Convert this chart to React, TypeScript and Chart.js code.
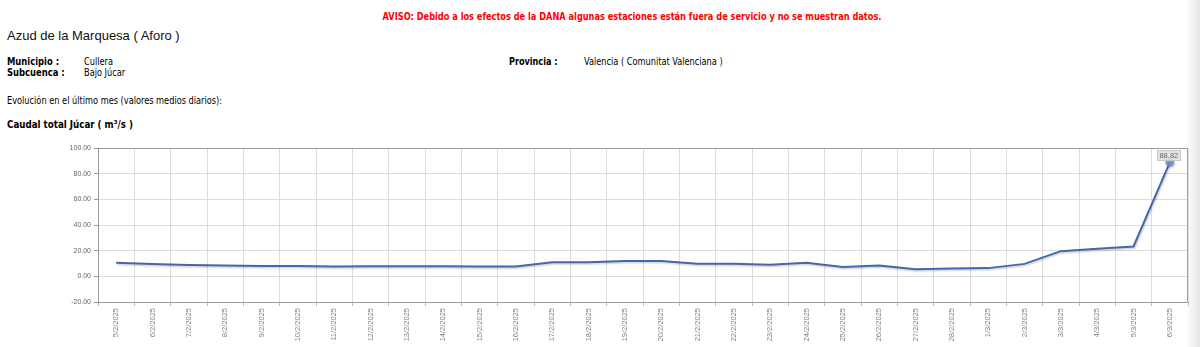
import React, { useEffect, useRef } from "react";
import { Chart, registerables } from "chart.js";

Chart.register(...registerables);

const dates = [
  "5/2/2025", "6/2/2025", "7/2/2025", "8/2/2025", "9/2/2025", "10/2/2025",
  "11/2/2025", "12/2/2025", "13/2/2025", "14/2/2025", "15/2/2025", "16/2/2025",
  "17/2/2025", "18/2/2025", "19/2/2025", "20/2/2025", "21/2/2025", "22/2/2025",
  "23/2/2025", "24/2/2025", "25/2/2025", "26/2/2025", "27/2/2025", "28/2/2025",
  "1/3/2025", "2/3/2025", "3/3/2025", "4/3/2025", "5/3/2025", "6/3/2025",
];

const caudal = [
  10.6, 9.6, 8.8, 8.5, 8.0, 8.0, 7.7, 7.9, 7.8, 7.8, 7.6, 7.6,
  11.0, 11.0, 12.0, 12.0, 9.8, 9.9, 9.1, 10.6, 7.3, 8.4,
  5.6, 6.1, 6.4, 9.7, 19.6, 21.5, 23.3, 88.82,
];

const yMin = -20;
const yMax = 100;
const yStep = 20;

const TXT = "'DejaVu Sans Condensed', 'Liberation Sans', sans-serif";

const shadowPlugin = {
  id: "lineShadow",
  beforeDatasetDraw(chart: any) {
    const ctx = chart.ctx;
    ctx.save();
    ctx.shadowColor = "rgba(0,0,0,0.18)";
    ctx.shadowOffsetX = 1;
    ctx.shadowOffsetY = 1.5;
    ctx.shadowBlur = 1.5;
  },
  afterDatasetDraw(chart: any) {
    chart.ctx.restore();
  },
};

const framePlugin = {
  id: "frame",
  beforeDatasetsDraw(chart: any) {
    const { ctx, chartArea: a } = chart;
    ctx.save();
    ctx.strokeStyle = "#9a9a9a";
    ctx.lineWidth = 1;
    ctx.beginPath();
    ctx.moveTo(a.left, a.top + 0.5);
    ctx.lineTo(a.right - 0.5, a.top + 0.5);
    ctx.lineTo(a.right - 0.5, a.bottom);
    ctx.stroke();
    ctx.restore();
  },
  afterDatasetsDraw(chart: any) {
    const { ctx } = chart;
    const meta = chart.getDatasetMeta(0);
    const last = caudal.length - 1;
    const pt = meta.data[last];
    if (!pt) return;
    const text = caudal[last].toFixed(2);
    ctx.save();
    ctx.font = "7.5px 'Liberation Sans', sans-serif";
    const w = ctx.measureText(text).width + 4;
    const h = 10;
    const cx = pt.x - 1;
    const cy = pt.y - 7;
    ctx.fillStyle = "rgba(225,225,225,0.9)";
    ctx.fillRect(cx - w / 2, cy - h / 2, w, h);
    ctx.strokeStyle = "#c8c8c8";
    ctx.lineWidth = 1;
    ctx.strokeRect(Math.round(cx - w / 2) + 0.5, Math.round(cy - h / 2) + 0.5, Math.round(w), h);
    ctx.fillStyle = "#666";
    ctx.textAlign = "center";
    ctx.textBaseline = "middle";
    ctx.fillText(text, cx, cy + 0.5);
    ctx.restore();
  },
};

function CaudalChart() {
  const ref = useRef<HTMLCanvasElement | null>(null);
  useEffect(() => {
    if (!ref.current) return;
    const last = caudal.length - 1;
    const chart = new Chart(ref.current, {
      type: "line",
      data: {
        labels: dates,
        datasets: [
          {
            label: "Caudal total Júcar",
            data: caudal,
            borderColor: "#4068ad",
            borderWidth: 2,
            tension: 0,
            pointRadius: (c: any) => (c.dataIndex === last ? 4.5 : 0),
            pointHoverRadius: (c: any) => (c.dataIndex === last ? 4.5 : 0),
            pointBackgroundColor: "rgba(100,140,205,0.85)",
            pointBorderWidth: 0,
          },
        ],
      },
      options: {
        animation: false,
        responsive: true,
        maintainAspectRatio: false,
        layout: { padding: { top: 8, right: 12, left: 0, bottom: 0 } },
        plugins: {
          legend: { display: false },
          tooltip: { enabled: false },
          title: { display: false },
        },
        scales: {
          x: {
            type: "category",
            offset: true,
            grid: {
              offset: true,
              color: "#dcdcdc",
              lineWidth: 1,
              tickLength: 4,
              tickColor: "#bbb",
            },
            border: { color: "#999", width: 1 },
            ticks: {
              autoSkip: false,
              minRotation: 90,
              maxRotation: 90,
              padding: 2,
              color: "#808080",
              font: { family: "'Liberation Sans', sans-serif", size: 7.5 },
            },
            afterFit: (s: any) => {
              s.height = 45;
            },
          },
          y: {
            min: yMin,
            max: yMax,
            ticks: {
              stepSize: yStep,
              padding: 3,
              color: "#666",
              font: { family: "'Liberation Sans', sans-serif", size: 7 },
              callback: (v: any) => Number(v).toFixed(2),
            },
            grid: {
              color: "#dcdcdc",
              lineWidth: 1,
              tickLength: 4,
              tickColor: "#999",
            },
            border: { color: "#999", width: 1 },
            afterFit: (s: any) => {
              s.width = 98;
            },
          },
        },
      },
      plugins: [shadowPlugin, framePlugin],
    } as any);
    return () => chart.destroy();
  }, []);
  return <canvas ref={ref} />;
}

const txt = (top: number, left: number, extra: React.CSSProperties = {}): React.CSSProperties => ({
  position: "absolute",
  top,
  left,
  whiteSpace: "nowrap",
  fontFamily: TXT,
  fontSize: 11,
  lineHeight: "12px",
  color: "#000",
  transform: "scaleX(0.83)",
  transformOrigin: "left center",
  ...extra,
});

export default function App() {
  return (
    <div
      style={{
        position: "fixed",
        left: 0,
        top: 0,
        width: 1200,
        height: 347,
        background: "#fff",
        overflow: "hidden",
      }}
    >
      <div
        style={txt(11, 632, {
          transform: "translateX(-50%) scaleX(0.83)",
          transformOrigin: "center center",
          color: "#ff0000",
          fontWeight: "bold",
        })}
      >
        AVISO: Debido a los efectos de la DANA algunas estaciones están fuera de servicio y no se muestran datos.
      </div>
      <div
        style={txt(28, 7, {
          fontFamily: "'Liberation Sans', Arial, sans-serif",
          fontSize: 13,
          lineHeight: "15px",
          color: "#111",
          transform: "none",
        })}
      >
        Azud de la Marquesa ( Aforo )
      </div>
      <div style={txt(56, 7, { fontWeight: "bold", transform: "scaleX(0.85)" })}>Municipio :</div>
      <div style={txt(56, 84)}>Cullera</div>
      <div style={txt(56, 509, { fontWeight: "bold", transform: "scaleX(0.82)" })}>Provincia :</div>
      <div style={txt(56, 584)}>Valencia ( Comunitat Valenciana )</div>
      <div style={txt(67, 7, { fontWeight: "bold", transform: "scaleX(0.85)" })}>Subcuenca :</div>
      <div style={txt(67, 84)}>Bajo Júcar</div>
      <div style={txt(95, 7)}>Evolución en el último mes (valores medios diarios):</div>
      <div style={txt(119, 7, { fontWeight: "bold", transform: "scaleX(0.88)" })}>Caudal total Júcar ( m³/s )</div>
      <div style={{ position: "absolute", left: 0, top: 140, width: 1200, height: 207 }}>
        <CaudalChart />
      </div>
      <div
        style={{
          position: "absolute",
          right: 0,
          top: 0,
          width: 14,
          height: 347,
          background: "linear-gradient(to right, rgba(235,235,235,0), rgba(228,228,228,1))",
        }}
      />
    </div>
  );
}
